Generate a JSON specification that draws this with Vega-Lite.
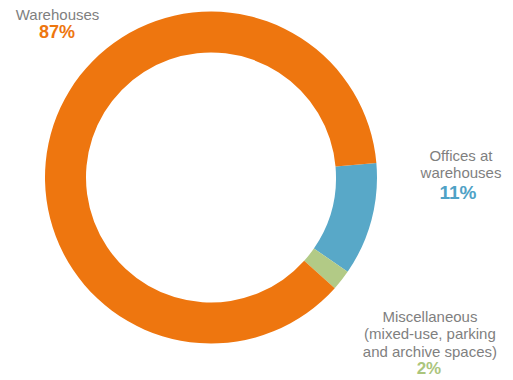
{
  "$schema": "https://vega.github.io/schema/vega-lite/v6.json",
  "width": 422,
  "height": 355,
  "padding": 0,
  "autosize": {"type": "pad"},
  "background": "white",
  "view": {"stroke": null},
  "data": {
    "values": [
      {"category": "Offices at warehouses", "ord": 1, "value": 11, "label": "Offices at\nwarehouses", "pct": "11%"},
      {"category": "Miscellaneous", "ord": 2, "value": 2, "label": "Miscellaneous\n(mixed-use, parking\nand archive spaces)", "pct": "2%"},
      {"category": "Warehouses", "ord": 3, "value": 87, "label": "Warehouses", "pct": "87%"}
    ]
  },
  "encoding": {
    "theta": {"field": "value", "type": "quantitative", "stack": true, "scale": {"domain": [0, 100], "range": [1.4835, 7.7667]}},
    "order": {"field": "ord", "type": "quantitative"}
  },
  "layer": [
    {
      "mark": {"type": "arc", "outerRadius": 166, "innerRadius": 125},
      "encoding": {
        "color": {
          "field": "category", "type": "nominal", "legend": null,
          "scale": {"domain": ["Warehouses", "Offices at warehouses", "Miscellaneous"], "range": ["#EE760F", "#58A8C8", "#B2CA86"]}
        }
      }
    },
    {
      "mark": {"type": "text", "radius": 190, "dx": 26.8, "dy": -98, "font": "Liberation Sans", "fontSize": 15, "color": "#7f7f7f", "align": "center", "baseline": "alphabetic", "lineBreak": "\n", "lineHeight": 15},
      "encoding": {"text": {"condition": {"test": "datum.category === 'Warehouses'", "field": "label"}, "value": ""}}
    },
    {
      "mark": {"type": "text", "radius": 190, "dx": 26.3, "dy": -80, "font": "Liberation Sans", "fontSize": 18, "fontWeight": "bold", "color": "#EE760F", "align": "center", "baseline": "alphabetic"},
      "encoding": {"text": {"condition": {"test": "datum.category === 'Warehouses'", "field": "pct"}, "value": ""}}
    },
    {
      "mark": {"type": "text", "radius": 190, "dx": 66.3, "dy": -65, "font": "Liberation Sans", "fontSize": 15, "color": "#7f7f7f", "align": "center", "baseline": "alphabetic", "lineBreak": "\n", "lineHeight": 16.5},
      "encoding": {"text": {"condition": {"test": "datum.category === 'Offices at warehouses'", "field": "label"}, "value": ""}}
    },
    {
      "mark": {"type": "text", "radius": 190, "dx": 63.3, "dy": -27.2, "font": "Liberation Sans", "fontSize": 19, "fontWeight": "bold", "color": "#4FA2C6", "align": "center", "baseline": "alphabetic"},
      "encoding": {"text": {"condition": {"test": "datum.category === 'Offices at warehouses'", "field": "pct"}, "value": ""}}
    },
    {
      "mark": {"type": "text", "radius": 190, "dx": 69.6, "dy": 26.8, "font": "Liberation Sans", "fontSize": 15, "color": "#7f7f7f", "align": "center", "baseline": "alphabetic", "lineBreak": "\n", "lineHeight": 17.5},
      "encoding": {"text": {"condition": {"test": "datum.category === 'Miscellaneous'", "field": "label"}, "value": ""}}
    },
    {
      "mark": {"type": "text", "radius": 190, "dx": 68.6, "dy": 79.1, "font": "Liberation Sans", "fontSize": 17, "fontWeight": "bold", "color": "#ABC57C", "align": "center", "baseline": "alphabetic"},
      "encoding": {"text": {"condition": {"test": "datum.category === 'Miscellaneous'", "field": "pct"}, "value": ""}}
    }
  ]
}
